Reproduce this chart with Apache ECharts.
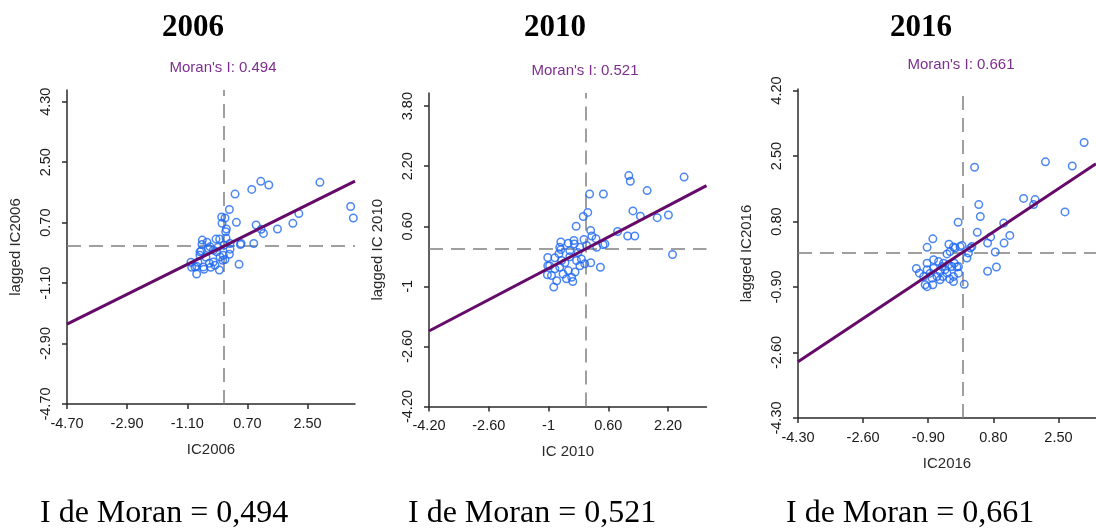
<!DOCTYPE html>
<html><head><meta charset="utf-8">
<script src="https://cdn.jsdelivr.net/npm/echarts@6/dist/echarts.min.js"></script>
<style>html,body{margin:0;padding:0;background:#fff}#c{width:1096px;height:528px}</style>
</head><body><div id="c"></div>
<script>
// ---------- data ----------
const years = ['2006', '2010', '2016'];
const moranI = [0.494, 0.521, 0.661];
const moranCaption = ['I de Moran = 0,494', 'I de Moran = 0,521', 'I de Moran = 0,661'];
const xNames = ['IC2006', 'IC 2010', 'IC2016'];
const yNames = ['lagged IC2006', 'lagged IC 2010', 'lagged IC2016'];

const ticks2006 = [-4.7, -2.9, -1.1, 0.7, 2.5, 4.3];
const tickLabels2006 = ['-4.70', '-2.90', '-1.10', '0.70', '2.50', '4.30'];
const ticks2010 = [-4.2, -2.6, -1, 0.6, 2.2, 3.8];
const tickLabels2010 = ['-4.20', '-2.60', '-1', '0.60', '2.20', '3.80'];
const ticks2016 = [-4.3, -2.6, -0.9, 0.8, 2.5, 4.2];
const tickLabels2016 = ['-4.30', '-2.60', '-0.90', '0.80', '2.50', '4.20'];

const points2006 = [[0.33,1.55],[0.83,1.69],[1.10,1.93],[1.34,1.82],[2.87,1.90],[3.79,1.18],[3.87,0.84],[0.16,1.09],[0.03,0.84],[-0.06,0.68],[0.37,0.71],[0.07,0.51],[0.05,0.43],[0.96,0.63],[1.18,0.38],[1.11,0.50],[1.60,0.51],[2.06,0.68],[2.24,0.97],[0.89,0.08],[0.49,0.05],[0.45,-0.54],[-0.14,-0.71],[-0.82,-0.83],[-0.97,-0.63],[-0.65,0.18],[-0.66,0.05],[-0.24,0.21],[-0.13,0.21],[-0.42,-0.02],[-0.72,-0.17],[0.18,-0.09],[0.16,-0.24],[-0.04,-0.42],[-0.12,-0.32],[-0.22,-0.17],[-0.62,-0.62],[-0.44,-0.51],[-0.40,-0.63],[-0.60,-0.69],[-0.82,-0.60],[-0.07,0.87],[0.18,0.08],[0.51,0.08],[-0.32,-0.12],[-0.47,-0.07],[-0.68,-0.14],[-0.72,-0.27],[-0.02,-0.27],[0.03,-0.40],[-0.32,-0.47],[-0.87,-0.62],[-0.78,-0.48],[-0.27,-0.57],[-0.99,-0.48],[-0.54,-0.33],[0.0,0.03],[-0.18,-0.03],[-0.51,0.12],[0.06,0.24]];

const points2010 = [[1.15,1.95],[1.19,1.80],[2.63,1.91],[1.64,1.55],[0.10,1.46],[0.47,1.46],[0.05,0.97],[-0.07,0.86],[-0.26,0.60],[1.26,1.01],[1.46,0.87],[1.91,0.83],[2.21,0.90],[0.85,0.46],[1.12,0.34],[1.31,0.34],[2.32,-0.15],[0.13,0.49],[0.16,0.34],[-0.05,0.25],[0.39,-0.49],[0.13,-0.37],[-0.86,-1.02],[-1.02,-0.23],[-1.02,-0.45],[-1.03,-0.69],[-0.92,-0.71],[-0.67,0.18],[-0.47,0.15],[-0.32,0.22],[-0.67,-0.02],[0.46,0.11],[0.51,0.13],[0.29,0.04],[-0.16,0.04],[-0.70,0.04],[0.02,0.09],[-0.31,0.13],[-0.83,-0.24],[-0.72,-0.13],[-0.65,-0.31],[-0.43,-0.21],[-0.25,-0.31],[-0.12,-0.27],[-0.03,-0.40],[-0.16,-0.45],[-0.83,-0.53],[-0.70,-0.49],[-0.47,-0.58],[-0.29,-0.62],[-0.61,-0.67],[-0.52,-0.80],[-0.38,-0.76],[-0.97,-0.45],[-0.56,-0.37],[-0.43,-0.05],[-0.21,-0.10],[0.27,0.27],[-0.78,-0.85],[-0.35,-0.87]];

const points2016 = [[3.17,2.85],[2.16,2.35],[2.86,2.24],[0.31,2.21],[1.59,1.40],[1.89,1.37],[1.85,1.24],[2.67,1.05],[0.42,1.24],[0.46,0.93],[-0.12,0.78],[0.38,0.52],[1.07,0.76],[0.73,0.40],[0.65,0.24],[1.23,0.44],[1.08,0.24],[0.85,0.01],[0.65,-0.49],[0.88,-0.38],[-0.78,0.35],[-0.93,0.13],[-0.36,0.21],[0.04,-0.83],[-0.93,-0.89],[-0.78,-0.84],[-1.21,-0.42],[-0.24,-0.76],[-0.24,0.14],[-0.02,0.18],[0.15,-0.02],[0.11,-0.15],[0.20,0.11],[0.24,0.15],[-0.41,-0.04],[-0.33,0.02],[-0.76,-0.19],[-0.63,-0.24],[-0.50,-0.28],[-0.37,-0.32],[-0.22,-0.28],[-0.11,-0.37],[-1.13,-0.54],[-0.93,-0.45],[-0.76,-0.41],[-0.59,-0.50],[-0.41,-0.54],[-0.24,-0.63],[-0.80,-0.67],[-0.98,-0.84],[-0.59,-0.71],[-0.34,-0.69],[-0.93,-0.28],[-0.46,-0.45],[-0.28,-0.37],[-0.15,-0.38],[-0.67,-0.63],[-0.52,-0.63],[-1.02,-0.63],[-0.11,-0.54],[-0.20,0.11],[-0.07,0.15],[-0.54,-0.37],[-0.85,-0.54]];

// ---------- layout / style ----------
const panels = [
  { pts: points2006, ticks: ticks2006, labels: tickLabels2006,
    grid: { left: 67, top: 90, width: 288, height: 314 },
    xr: [-4.7, 3.92], yr: [-4.7, 4.65], titleX: 193, moranX: 223, moranY: 67.5, capX: 40 },
  { pts: points2010, ticks: ticks2010, labels: tickLabels2010,
    grid: { left: 429, top: 93, width: 277.5, height: 313.5 },
    xr: [-4.2, 3.23], yr: [-4.2, 4.15], titleX: 555, moranX: 585, moranY: 70.5, capX: 408 },
  { pts: points2016, ticks: ticks2016, labels: tickLabels2016,
    grid: { left: 798, top: 89, width: 298, height: 329 },
    xr: [-4.3, 3.48], yr: [-4.3, 4.24], titleX: 921, moranX: 961, moranY: 65, capX: 786 }
];

const SANS = '"Liberation Sans", Arial, sans-serif';
const SERIF = '"Liberation Serif", "Times New Roman", serif';
const axisCol = '#2b2b2b';

const grids = [], xAxes = [], yAxes = [], series = [], graphics = [];
panels.forEach((p, i) => {
  grids.push(Object.assign({ containLabel: false }, p.grid));
  const fmt = v => { const k = p.ticks.findIndex(t => Math.abs(t - v) < 1e-6); return k >= 0 ? p.labels[k] : ''; };
  const common = {
    type: 'value', gridIndex: i, nameLocation: 'middle',
    nameTextStyle: { fontFamily: SANS, fontSize: 15, color: '#2a2a2a' },
    axisLine: { show: true, onZero: false, lineStyle: { color: axisCol, width: 1.5 } },
    axisTick: { show: true, length: 5, lineStyle: { color: axisCol, width: 1.5 }, customValues: p.ticks },
    splitLine: { show: false },
    axisLabel: { fontFamily: SANS, fontSize: 14.5, color: '#1a1a1a', margin: 12, formatter: fmt, customValues: p.ticks, showMinLabel: true, showMaxLabel: true, hideOverlap: false }
  };
  xAxes.push(Object.assign({}, common, { min: p.xr[0], max: p.xr[1], name: xNames[i], nameGap: 38 }));
  yAxes.push(Object.assign({}, common, { min: p.yr[0], max: p.yr[1], name: yNames[i], nameGap: 44,
    axisLabel: Object.assign({}, common.axisLabel, { rotate: 90, margin: 14 }) }));

  series.push({
    type: 'scatter', xAxisIndex: i, yAxisIndex: i, data: p.pts, symbol: 'circle', symbolSize: 7.5, z: 3,
    itemStyle: { color: 'rgba(255,255,255,0)', borderColor: '#1e68f2', borderWidth: 1.5 },
    markLine: {
      silent: true, symbol: ['none', 'none'], label: { show: false }, animation: false, z: 1,
      lineStyle: { color: '#808080', width: 1.5, type: [14, 8] },
      emphasis: { disabled: true },
      data: [{ xAxis: 0 }, { yAxis: 0 }]
    }
  });
  const s = moranI[i];
  series.push({
    type: 'line', xAxisIndex: i, yAxisIndex: i, symbol: 'none', z: 4, animation: false,
    lineStyle: { color: '#660a6a', width: 3 },
    data: [[p.xr[0], s * p.xr[0]], [p.xr[1], s * p.xr[1]]]
  });

  graphics.push({ type: 'text', x: p.titleX, y: 28, style: { text: years[i], font: 'bold 31px ' + SERIF, fill: '#000', align: 'center', verticalAlign: 'middle' } });
  graphics.push({ type: 'text', x: p.moranX, y: p.moranY, style: { text: "Moran's I: " + moranI[i].toFixed(3), font: '15px ' + SANS, fill: '#7d2f8e', align: 'center', verticalAlign: 'middle' } });
  graphics.push({ type: 'text', x: p.capX, y: 514, style: { text: moranCaption[i], font: '32px ' + SERIF, fill: '#000', align: 'left', verticalAlign: 'middle' } });
});

const chart = echarts.init(document.getElementById('c'), null, { renderer: 'canvas' });
chart.setOption({
  animation: false,
  backgroundColor: '#fff',
  grid: grids, xAxis: xAxes, yAxis: yAxes, series: series, graphic: graphics
});
</script></body></html>
